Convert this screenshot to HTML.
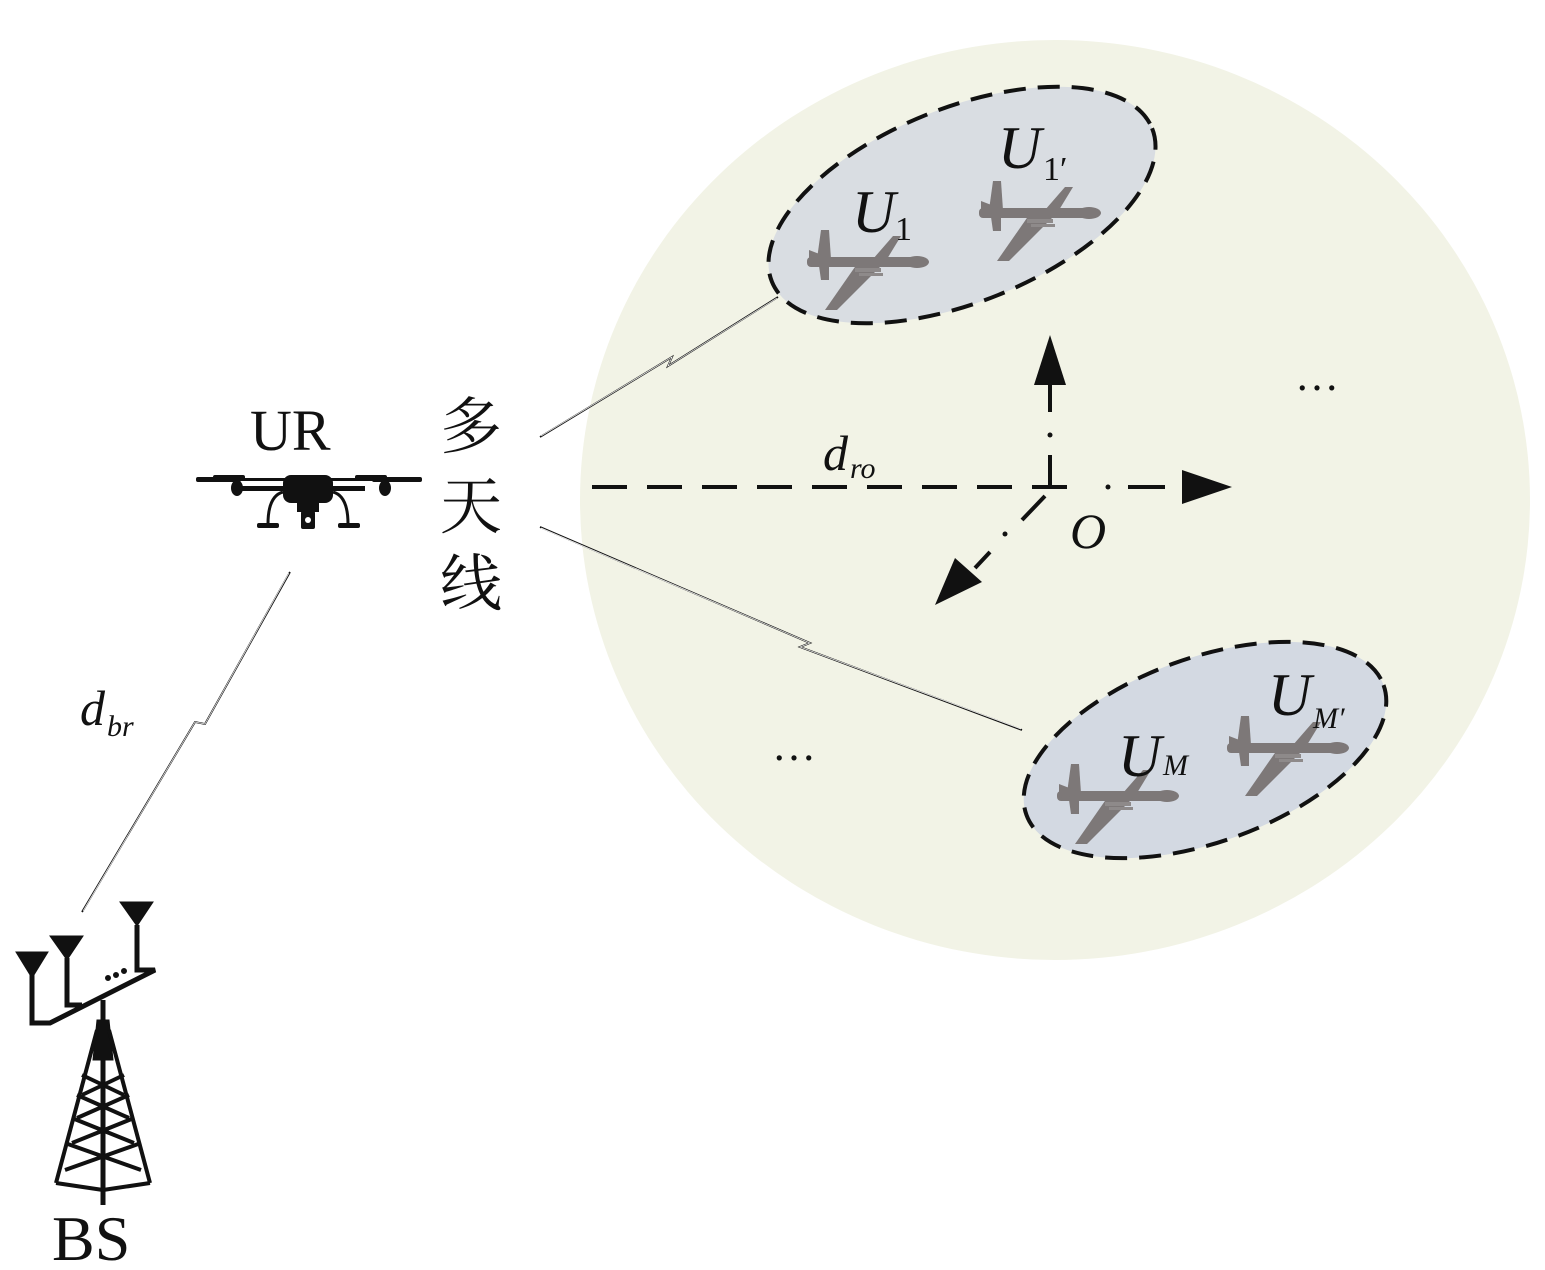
<!DOCTYPE html>
<html><head><meta charset="utf-8"><style>
html,body{margin:0;padding:0;background:#fff;}
svg{display:block;}
.t{font-family:"Liberation Serif","Noto Serif CJK SC",serif;fill:#111;}
</style></head><body>
<svg width="1545" height="1270" viewBox="0 0 1545 1270" xmlns="http://www.w3.org/2000/svg">
<defs>
<g id="plane" fill="#7d7878">
  <rect x="-58" y="-5" width="112" height="10" rx="4"/>
  <ellipse cx="52" cy="0" rx="12" ry="6"/>
  <polygon points="-8,2 -40,48 -28,48 18,2"/>
  <polygon points="8,-3 28,-26 36,-26 22,-3"/>
  <polygon points="-48,-3 -44,-32 -36,-32 -34,-3"/>
  <polygon points="-56,-12 -30,-2 -56,2"/>
  <polygon points="-46,4 -44,18 -36,18 -36,4"/>
  <rect x="-10" y="6" width="26" height="4" fill="#8e8a8a"/>
  <rect x="-6" y="11" width="24" height="3" fill="#8e8a8a"/>
</g>
</defs>

<ellipse cx="1055" cy="500" rx="475" ry="460" fill="#f2f3e6"/>

<ellipse cx="962" cy="205" rx="205" ry="97" transform="rotate(-22 962 205)" fill="#d9dde2" stroke="#111" stroke-width="4" stroke-dasharray="22 12"/>
<ellipse cx="1205" cy="750" rx="190" ry="92" transform="rotate(-20 1205 750)" fill="#d3d9e2" stroke="#111" stroke-width="4" stroke-dasharray="22 12"/>

<use href="#plane" transform="translate(865,262)"/>
<use href="#plane" transform="translate(1037,213)"/>
<use href="#plane" transform="translate(1115,796)"/>
<use href="#plane" transform="translate(1285,748)"/>

<text class="t" x="852" y="232" font-size="60" font-style="italic">U</text>
<text class="t" x="895" y="240" font-size="34">1</text>
<text class="t" x="998" y="168" font-size="60" font-style="italic">U</text>
<text class="t" x="1043" y="180" font-size="34">1′</text>
<text class="t" x="1118" y="776" font-size="60" font-style="italic">U</text>
<text class="t" x="1163" y="775" font-size="30" font-style="italic">M</text>
<text class="t" x="1268" y="715" font-size="60" font-style="italic">U</text>
<text class="t" x="1313" y="728" font-size="30" font-style="italic">M′</text>

<g fill="none" stroke="#111" stroke-width="1.8">
<polyline points="540,437 672,357 668,366 778,297"/>
<polyline points="540,527 810,643 800,647 1022,730"/>
<polyline points="290,572 205,724 195,722 82,912"/>
</g>
<g fill="none" stroke="#fff" stroke-width="0.7">
<polyline points="541,436 672,357 668,366 777,298"/>
<polyline points="541,528 810,643 800,647 1021,729"/>
<polyline points="289,573 205,724 195,722 83,911"/>
</g>

<g stroke="#111" stroke-width="4" fill="none">
<line x1="592" y1="487" x2="1085" y2="487" stroke-dasharray="35 20"/>
<line x1="1128" y1="487" x2="1165" y2="487"/>
<line x1="1050" y1="487" x2="1050" y2="455"/>
<line x1="1050" y1="412" x2="1050" y2="380"/>
<line x1="1045" y1="496" x2="1022" y2="520"/>
<line x1="990" y1="552" x2="975" y2="568"/>
</g>
<circle cx="1108" cy="487" r="2.5" fill="#111"/>
<circle cx="1050" cy="435" r="2.5" fill="#111"/>
<circle cx="1005" cy="534" r="2.5" fill="#111"/>
<polygon points="1182,470 1232,487 1182,504" fill="#111"/>
<polygon points="1050,335 1034,385 1066,385" fill="#111"/>
<polygon points="935,605 955,558 982,582" fill="#111"/>
<text class="t" x="1070" y="548" font-size="50" font-style="italic">O</text>
<text class="t" x="823" y="470" font-size="50" font-style="italic">d</text>
<text class="t" x="850" y="478" font-size="30" font-style="italic">ro</text>

<text class="t" x="1295" y="390" font-size="44">…</text>
<text class="t" x="772" y="760" font-size="44">…</text>

<!-- UR drone -->
<text class="t" x="250" y="450" font-size="58">UR</text>
<g fill="#111">
<rect x="196" y="477" width="45" height="5" rx="2"/>
<rect x="213" y="475" width="32" height="5" rx="2"/>
<rect x="355" y="475" width="32" height="5" rx="2"/>
<rect x="372" y="477" width="50" height="5" rx="2"/>
<rect x="205" y="478" width="210" height="3"/>
<rect x="235" y="486" width="130" height="5"/>
<ellipse cx="237" cy="488" rx="6" ry="8"/>
<ellipse cx="385" cy="488" rx="6" ry="8"/>
<rect x="283" y="475" width="50" height="28" rx="8"/>
<rect x="297" y="500" width="22" height="12"/>
<rect x="301" y="511" width="14" height="18" rx="2"/>
<circle cx="308" cy="520" r="3" fill="#fff"/>
<path d="M268 524 Q268 496 283 492" fill="none" stroke="#111" stroke-width="3"/>
<path d="M348 524 Q348 496 333 492" fill="none" stroke="#111" stroke-width="3"/>
<rect x="257" y="523" width="22" height="5" rx="2"/>
<rect x="338" y="523" width="22" height="5" rx="2"/>
</g>
<text class="t" x="440" y="448" font-size="62">多</text>
<text class="t" x="440" y="528" font-size="62">天</text>
<text class="t" x="440" y="605" font-size="62">线</text>

<text class="t" x="80" y="725" font-size="50" font-style="italic">d</text>
<text class="t" x="107" y="736" font-size="30" font-style="italic">br</text>

<!-- BS -->
<g fill="#111" stroke="#111">
<polygon points="16,952 48,952 32,978"/>
<polygon points="50,936 83,936 67,960"/>
<polygon points="120,902 153,902 137,926"/>
<g fill="none" stroke-width="5">
<polyline points="32,975 32,1023 50,1023 155,970 137,970 137,925"/>
<polyline points="67,958 67,1005 82,1005"/>
<line x1="103" y1="1000" x2="103" y2="1205"/>
</g>
<circle cx="108" cy="978" r="2.5"/><circle cx="116" cy="975" r="2.5"/><circle cx="124" cy="971" r="2.5"/>
<polygon points="97,1020 109,1020 113,1060 93,1060"/>
<g stroke-width="4" fill="none">
<line x1="97" y1="1030" x2="56" y2="1183"/>
<line x1="109" y1="1030" x2="150" y2="1183"/>
<line x1="82" y1="1075" x2="124" y2="1095"/><line x1="124" y1="1075" x2="82" y2="1095"/>
<line x1="77" y1="1095" x2="129" y2="1118"/><line x1="129" y1="1095" x2="77" y2="1118"/>
<line x1="72" y1="1118" x2="134" y2="1143"/><line x1="134" y1="1118" x2="72" y2="1143"/>
<line x1="65" y1="1143" x2="141" y2="1170"/><line x1="141" y1="1143" x2="65" y2="1170"/>
<line x1="56" y1="1183" x2="103" y2="1190"/><line x1="150" y1="1183" x2="103" y2="1190"/>
</g>
</g>
<text class="t" x="52" y="1260" font-size="64">BS</text>
</svg>
</body></html>
